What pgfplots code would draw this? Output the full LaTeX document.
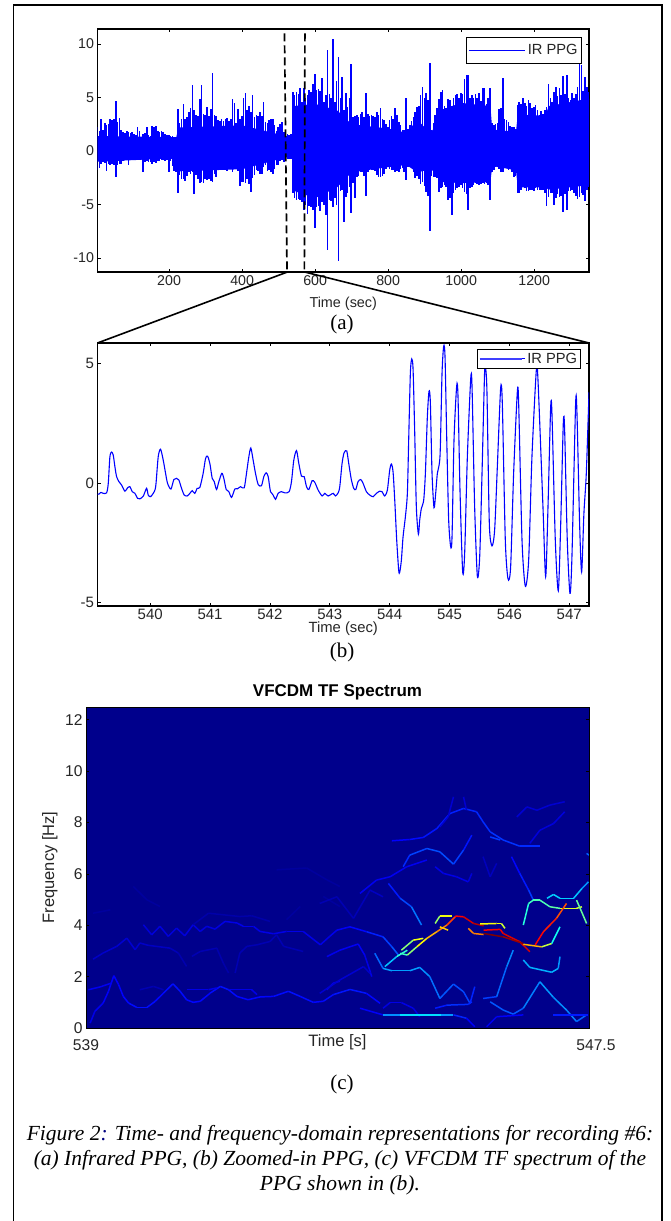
\documentclass[border=0pt]{standalone}
\usepackage{pgfplots}
\usepackage{pgfplotstable}
\usepackage{fontspec}
\pgfplotsset{compat=1.18}
\setmainfont{Liberation Sans}
\newfontfamily\capfont{Liberation Serif}
\definecolor{tk}{HTML}{262626}
\definecolor{bgb}{rgb}{0,0,0.55}
\pgfplotstableread[row sep=\\]{
x hi lo\\
4 2.2 -1.8\\9 1.9 -1.6\\14 3.0 -1.2\\19 2.0 -1.0\\24 2.6 -1.1\\29 2.4 -1.9\\34 2.5 -1.2\\39 3.0 -1.3\\44 2.9 -1.2\\49 3.0 -1.3\\54 4.7 -2.4\\59 2.7 -1.3\\64 3.1 -1.2\\69 2.0 -1.2\\74 1.8 -0.9\\79 1.7 -0.8\\84 1.9 -0.8\\89 1.8 -1.3\\94 1.7 -0.8\\99 1.8 -0.8\\104 1.6 -0.7\\109 1.5 -0.7\\114 2.2 -0.7\\119 1.9 -0.8\\124 1.3 -0.7\\129 1.6 -2.0\\134 1.7 -1.0\\139 2.2 -0.9\\144 1.5 -1.0\\149 1.4 -1.0\\154 2.3 -1.2\\159 2.2 -1.0\\164 2.3 -1.1\\169 1.9 -0.9\\174 1.8 -0.9\\179 1.9 -0.8\\184 1.8 -0.8\\189 1.6 -0.9\\194 1.5 -0.8\\199 1.5 -2.0\\
204 1.4 -0.9\\209 1.4 -1.4\\214 1.3 -1.9\\219 1.3 -2.0\\224 3.9 -3.9\\229 2.6 -2.2\\234 3.0 -2.6\\239 4.4 -2.6\\244 3.0 -2.8\\249 3.2 -2.3\\254 3.6 -2.0\\259 4.0 -2.1\\264 6.2 -2.0\\269 3.8 -4.0\\274 3.4 -2.2\\279 3.3 -2.6\\284 4.9 -3.0\\289 6.2 -2.9\\294 3.5 -3.0\\299 3.4 -2.6\\304 4.1 -2.7\\309 3.3 -2.6\\314 3.9 -2.8\\319 7.3 -2.9\\324 3.4 -2.1\\329 3.3 -2.4\\334 2.9 -1.8\\339 2.8 -1.6\\344 3.0 -1.7\\349 2.8 -1.6\\354 3.0 -1.8\\359 3.1 -1.9\\364 2.8 -1.6\\369 3.0 -1.7\\374 4.9 -2.0\\379 4.5 -1.7\\384 2.6 -1.6\\389 3.9 -1.9\\394 3.0 -3.3\\399 3.3 -2.9\\
404 5.0 -2.9\\409 5.4 -3.0\\414 3.8 -2.6\\419 4.2 -3.1\\424 3.6 -3.8\\429 5.2 -2.5\\434 3.2 -2.2\\439 3.4 -1.8\\444 3.3 -1.9\\449 3.6 -2.1\\454 3.3 -2.1\\459 4.6 -1.5\\464 2.7 -1.3\\469 2.6 -1.9\\474 2.9 -1.8\\479 3.0 -2.0\\484 3.0 -2.1\\489 2.4 -1.7\\494 1.9 -1.3\\499 2.2 -1.3\\504 2.5 -0.9\\509 2.7 -0.8\\514 1.8 -1.0\\519 1.6 -0.7\\524 1.6 -0.7\\529 1.5 -0.7\\534 1.6 -0.7\\539 5.5 -3.9\\544 5.2 -4.4\\549 5.5 -4.6\\554 5.3 -4.5\\559 5.9 -4.6\\564 4.6 -4.8\\569 5.9 -5.5\\574 5.0 -5.0\\579 5.2 -5.9\\584 5.7 -5.1\\589 5.5 -5.2\\594 6.3 -5.5\\599 7.2 -7.2\\
604 5.7 -5.2\\609 5.8 -5.1\\614 5.6 -5.6\\619 6.8 -4.8\\624 4.6 -5.0\\629 5.2 -6.0\\634 9.4 -9.2\\639 5.3 -4.6\\644 5.0 -4.7\\649 10.5 -5.2\\654 4.6 -4.4\\659 6.5 -5.0\\664 8.8 -10.3\\669 5.0 -3.7\\674 6.9 -3.6\\679 3.8 -6.6\\684 5.4 -4.3\\689 4.1 -3.9\\694 5.0 -3.4\\699 8.1 -5.8\\704 3.2 -3.0\\709 3.3 -4.4\\714 3.4 -2.4\\719 3.2 -2.3\\724 3.5 -2.0\\729 3.6 -2.0\\734 3.2 -2.3\\739 5.4 -4.2\\744 3.5 -2.0\\749 3.3 -1.7\\754 3.4 -1.8\\759 3.3 -1.8\\764 3.2 -1.9\\769 3.6 -2.2\\774 3.4 -2.4\\779 4.0 -2.4\\784 3.0 -2.3\\789 2.9 -2.1\\794 2.5 -1.7\\799 2.2 -1.5\\
804 2.9 -1.7\\809 3.3 -1.8\\814 3.0 -1.8\\819 4.0 -2.0\\824 3.4 -1.9\\829 2.7 -2.0\\834 2.4 -1.7\\839 2.0 -1.6\\844 2.0 -2.0\\849 5.0 -2.7\\854 2.1 -1.5\\859 2.4 -1.4\\864 2.8 -1.6\\869 3.2 -2.0\\874 3.6 -2.5\\879 4.1 -2.3\\884 4.2 -2.6\\889 5.2 -3.1\\894 6.0 -2.9\\899 5.0 -3.3\\904 5.4 -3.8\\909 4.8 -4.2\\914 8.2 -7.5\\919 2.0 -2.3\\924 2.6 -2.4\\929 3.4 -2.4\\934 4.0 -2.5\\939 4.9 -3.8\\944 5.5 -3.5\\949 5.7 -3.4\\954 4.2 -3.2\\959 4.0 -3.4\\964 4.9 -4.6\\969 4.8 -4.4\\974 4.2 -6.0\\979 5.0 -3.9\\984 5.2 -3.6\\989 5.3 -3.5\\994 5.0 -3.4\\999 5.4 -3.2\\
1004 5.3 -3.5\\1009 6.7 -3.8\\1014 7.1 -4.0\\1019 7.1 -5.5\\1024 5.0 -3.5\\1029 5.2 -3.4\\1034 5.0 -3.2\\1039 5.3 -3.0\\1044 5.0 -3.1\\1049 5.4 -3.2\\1054 4.7 -3.1\\1059 5.9 -3.0\\1064 5.9 -3.1\\1069 4.4 -3.0\\1074 5.0 -3.2\\1079 5.9 -4.6\\1084 2.6 -2.0\\1089 2.4 -1.8\\1094 2.5 -1.5\\1099 2.6 -1.3\\1104 3.9 -1.7\\1109 4.0 -2.0\\1114 6.8 -2.0\\1119 3.0 -1.6\\1124 2.9 -1.4\\1129 2.7 -1.8\\1134 2.3 -1.7\\1139 2.2 -2.0\\1144 2.2 -2.4\\1149 2.1 -2.3\\1154 4.3 -3.9\\1159 4.6 -3.9\\1164 4.4 -3.6\\1169 5.0 -3.4\\1174 4.5 -3.5\\1179 4.2 -3.7\\1184 4.8 -3.7\\1189 4.5 -3.6\\1194 4.0 -3.6\\1199 4.1 -3.7\\
1204 4.3 -3.5\\1209 3.8 -3.6\\1214 3.4 -3.6\\1219 3.7 -3.6\\1224 3.5 -3.6\\1229 3.8 -3.9\\1234 4.1 -5.1\\1239 6.3 -4.3\\1244 5.0 -3.9\\1249 4.6 -3.9\\1254 5.5 -5.0\\1259 6.0 -4.4\\1264 5.1 -4.0\\1269 5.9 -4.3\\1274 5.2 -4.2\\1279 7.0 -5.7\\1284 5.3 -4.0\\1289 7.1 -5.5\\1294 5.0 -3.7\\1299 4.8 -3.7\\1304 5.4 -3.6\\1309 5.0 -3.9\\1314 5.3 -4.2\\1319 6.0 -4.5\\1324 8.1 -4.3\\1329 8.0 -3.9\\1334 5.6 -4.1\\1339 6.9 -4.7\\1344 6.0 -3.6\\1349 5.5 -3.4\\
}\tabA
\pgfplotstableread[row sep=\\]{
x y\\
539.105 -0.47\\539.144 -0.46\\539.177 -0.39\\539.216 -0.43\\539.272 -0.41\\539.30 -0.01\\539.327 1.10\\539.355 1.30\\539.383 1.17\\539.411 0.68\\539.439 0.27\\539.478 0.06\\539.522 -0.08\\539.578 -0.34\\539.622 -0.20\\539.661 -0.15\\539.70 -0.36\\539.745 -0.43\\539.789 -0.64\\539.828 -0.66\\539.884 -0.55\\539.94 -0.22\\539.967 -0.50\\540.006 -0.57\\540.068 -0.36\\540.095 -0.08\\540.134 1.10\\540.173 1.42\\540.218 0.96\\540.257 0.41\\540.29 -0.01\\540.346 -0.25\\540.396 0.15\\540.44 0.20\\540.479 0.13\\540.524 -0.22\\540.568 -0.50\\540.618 -0.54\\540.663 -0.43\\540.702 -0.32\\540.746 -0.43\\540.785 -0.22\\540.83 -0.18\\540.885 0.41\\540.925 1.03\\540.958 1.13\\540.997 0.82\\541.036 0.20\\541.07 0.06\\541.108 -0.27\\541.147 0.06\\541.197 0.41\\541.23 0.20\\541.27 -0.27\\541.314 -0.36\\541.359 -0.60\\541.414 -0.25\\541.459 -0.24\\541.509 -0.15\\541.57 -0.20\\541.609 0.41\\541.648 1.10\\541.681 1.47\\541.72 0.96\\541.759 0.41\\541.804 -0.06\\541.859 -0.11\\541.898 0.27\\541.937 0.43\\541.971 0.27\\542.01 -0.36\\542.054 -0.50\\542.093 -0.68\\542.138 -0.43\\542.193 -0.36\\542.249 -0.41\\542.321 -0.36\\542.36 0.06\\542.399 0.96\\542.444 1.36\\542.483 0.82\\542.527 0.29\\542.572 0.27\\542.611 -0.15\\542.65 -0.27\\542.705 0.10\\542.75 0.03\\542.805 -0.29\\542.872 -0.54\\542.917 -0.43\\542.972 -0.54\\543.056 -0.43\\543.095 -0.54\\543.14 -0.41\\543.167 -0.15\\
543.205 0.82\\543.239 1.27\\543.283 1.35\\543.317 0.82\\543.361 0.13\\543.40 -0.22\\543.434 -0.27\\543.473 0.06\\543.517 0.15\\543.556 -0.01\\543.612 -0.36\\543.667 -0.50\\543.723 -0.57\\543.779 -0.43\\543.834 -0.34\\543.873 -0.36\\543.918 -0.54\\543.962 -0.29\\544.001 0.54\\544.029 0.80\\544.057 0.47\\544.085 -0.71\\544.118 -2.39\\544.151 -3.65\\544.168 -3.74\\544.196 -3.23\\544.224 -2.25\\544.263 -1.41\\544.296 -0.43\\544.318 1.80\\544.346 4.60\\544.369 5.20\\544.391 4.78\\544.419 2.09\\544.446 -1.01\\544.48 -2.14\\544.502 -1.55\\544.53 -1.06\\544.569 -0.71\\544.597 0.41\\544.63 2.79\\544.658 3.85\\544.68 3.37\\544.708 0.41\\544.741 -1.03\\544.769 -0.43\\544.797 0.41\\544.842 1.17\\544.875 4.60\\544.903 5.74\\544.925 5.29\\544.953 1.94\\544.986 -1.55\\545.02 -2.67\\545.042 -2.25\\545.075 1.80\\545.12 4.08\\545.142 3.62\\545.175 -0.29\\545.22 -3.72\\545.253 -2.95\\545.298 1.10\\545.354 4.36\\545.376 4.04\\545.42 -1.0\\545.465 -3.9\\545.504 -3.09\\545.543 0.41\\545.587 4.73\\545.604 4.80\\545.626 3.76\\545.665 -1.69\\545.71 -2.63\\545.754 -1.96\\545.799 0.69\\545.854 3.97\\545.882 3.34\\545.932 -2.39\\545.977 -4.01\\546.021 -3.51\\546.071 0.41\\546.133 3.83\\546.155 3.34\\546.211 -2.39\\546.266 -4.32\\546.322 -3.23\\546.377 1.10\\546.45 4.73\\546.478 4.31\\546.561 -1.0\\546.606 -3.92\\546.645 -1.0\\546.689 3.13\\546.711 2.92\\546.767 -2.39\\546.817 -4.51\\546.856 -1.83\\546.901 2.53\\546.923 2.22\\546.967 -2.39\\547.012 -4.62\\547.045 -3.09\\547.106 3.30\\547.129 2.92\\547.173 -1.69\\547.207 -3.72\\547.245 -1.27\\547.285 0.41\\547.33 3.8\\
}\tabB
\pgfplotsset{
  common/.style={
    scale only axis,
    axis line style={black,line width=1.1pt},
    tick style={black,line width=0.7pt},
    major tick length=3pt,
    tick align=inside,
    /pgf/number format/assume math mode=true,
    /pgf/number format/1000 sep={},
    tick label style={text=tk},
    every axis x label/.style={at={(axis description cs:0.5,0)},anchor=center,text=tk},
    ridge/.style={mesh,point meta=explicit,line width=1.5pt},
  },
}
\begin{document}
\begin{tikzpicture}[x=1pt,y=1pt]
\path[use as bounding box] (0,0) rectangle (671,1221);
\fill[white] (0,0) rectangle (671,1221);
\draw[black,line width=1.3pt] (13.5,0) -- (13.5,1216) -- (662,1216) -- (662,0);
% ---------- panel a
\begin{axis}[common,at={(97.5pt,949pt)},anchor=south west,width=491.5pt,height=243pt,
  xmin=4,xmax=1350,ymin=-11.3,ymax=11.4,
  xtick={200,400,...,1200},ytick={-10,-5,0,5,10},
  tick label style={font=\fontsize{14.2}{14.2}\selectfont},
  xlabel={Time (sec)},
  xlabel style={font=\fontsize{14.4}{14.4}\selectfont,yshift=-32pt},
  legend style={at={(0.986,0.967)},anchor=north east,draw=black,line width=1pt,
    font=\fontsize{14.7}{14.7}\selectfont,inner xsep=2pt,inner ysep=5pt,
    cells={anchor=west,text=tk}},
  legend image code/.code={\path (-11pt,0pt) -- (45pt,0pt);\draw[blue,line width=1.1pt] (-4.5pt,0pt) -- (40.5pt,0pt);},
  ]
\addplot[fill=blue,draw=none,forget plot] coordinates {(4,1.4) (200,1.3) (220,1.3) (225,2.2) (400,2.4) (520,1.4) (538,1.4) (540,4.2) (600,4.4) (660,3.8) (700,2.5) (800,2.1) (850,1.7) (880,2.9) (915,1.7) (930,2.3) (950,3.9) (1000,4.5) (1080,4.2) (1085,2.0) (1150,1.8) (1155,3.4) (1230,3.3) (1240,4.2) (1350,4.9) (1350,-3.2) (1240,-3.6) (1230,-3.4) (1155,-3.4) (1150,-1.8) (1085,-1.4) (1080,-2.9) (1000,-3.0) (950,-2.9) (930,-2.0) (915,-1.7) (880,-2.0) (850,-1.3) (800,-1.5) (700,-2.0) (660,-3.4) (600,-4.4) (540,-3.7) (538,-0.6) (520,-0.6) (400,-1.7) (225,-1.9) (220,-0.8) (200,-0.7) (4,-1)} -- cycle;
\addplot[ycomb,blue,line width=1.6pt,line cap=butt,no marks] table[x=x,y=hi] {\tabA};
\addlegendentry{IR PPG}
\addplot[ycomb,blue,line width=1.6pt,line cap=butt,no marks,forget plot] table[x=x,y=lo] {\tabA};
\addplot[black,line width=1.7pt,dash pattern=on 8pt off 4pt,forget plot] coordinates {(516,11) (523,-11.3)};
\addplot[black,line width=1.7pt,dash pattern=on 8pt off 4pt,forget plot] coordinates {(572,11) (570.5,-11.3)};
\end{axis}
% ---------- panel b
\begin{axis}[common,at={(97.5pt,615pt)},anchor=south west,width=491.5pt,height=263pt,
  xmin=539.12,xmax=547.33,ymin=-5.15,ymax=5.87,
  xtick={540,541,...,547},ytick={-5,0,5},
  tick label style={font=\fontsize{15}{15}\selectfont},
  xlabel={Time (sec)},
  xlabel style={font=\fontsize{14.8}{14.8}\selectfont,yshift=-23pt},
  legend style={at={(0.983,0.977)},anchor=north east,draw=black,line width=1pt,
    font=\fontsize{14.7}{14.7}\selectfont,inner xsep=1pt,inner ysep=1.5pt,
    cells={anchor=west,text=tk}},
  legend image code/.code={\path (-3pt,0pt) -- (42pt,0pt);\draw[blue!75!white,line width=2.2pt] (-3pt,0pt) -- (39pt,0pt);},
  ]
\addplot[blue,line width=1.1pt,smooth,tension=0.45,no marks] table[x=x,y=y] {\tabB};
\addlegendentry{IR PPG}
\end{axis}
% ---------- panel c
\begin{axis}[common,at={(86pt,193pt)},anchor=south west,width=503pt,height=321pt,
  xmin=539,xmax=547.5,ymin=0,ymax=12.5,
  xtick={539,547.5},xticklabels={539,\hspace*{14pt}547.5},ytick={0,2,...,12},
  x tick style={draw=none},
  axis background/.style={fill=bgb},
  axis line style={black,line width=0.9pt},
  tick label style={font=\fontsize{15.6}{15.6}\selectfont},
  x tick label style={yshift=-8pt},
  xlabel={Time [s]},ylabel={Frequency [Hz]},
  xlabel style={font=\fontsize{16.5}{16.5}\selectfont,yshift=-14pt},
  every axis y label/.style={at={(axis description cs:-0.072,0.5)},rotate=90,anchor=center,text=tk,font=\fontsize{16.5}{16.5}\selectfont},
  title={\bfseries VFCDM TF Spectrum},
  title style={font=\fontsize{17}{17}\selectfont,yshift=-3pt,text=black},
  colormap/jet,point meta min=0,point meta max=1,
  ]
\addplot[ridge] coordinates {(539.07,.19)[.1] (539.15,.65)[.1] (539.29,.97)[.12] (539.38,1.43)[.12] (539.47,2.04)[.12] (539.55,1.69)[.12] (539.63,1.23)[.13] (539.72,.97)[.13] (539.86,.80)[.14] (540.03,.80)[.14] (540.17,1.04)[.13] (540.31,1.36)[.13] (540.47,1.72)[.14] (540.59,1.43)[.14] (540.70,1.10)[.13] (540.81,1.0)[.13] (540.93,1.04)[.13] (541.10,1.36)[.13] (541.27,1.62)[.14] (541.41,1.49)[.14] (541.55,1.23)[.13] (541.74,1.10)[.13] (541.94,1.21)[.13] (542.17,1.23)[.13] (542.42,1.43)[.14] (542.62,1.23)[.14] (542.84,1.0)[.13] (543.01,1.04)[.13] (543.18,1.30)[.14] (543.46,1.50)[.15] (543.74,1.35)[.14] (543.97,.96)[.12]};
\addplot[ridge] coordinates {(539.04,1.49)[.11] (539.24,1.60)[.11] (539.43,1.75)[.11]};
\addplot[ridge] coordinates {(539.91,1.49)[.05] (540.14,1.62)[.05] (540.31,1.49)[.05]};
\addplot[ridge] coordinates {(540.70,1.49)[.1] (541.07,1.49)[.1] (541.21,1.56)[.1]};
\addplot[ridge] coordinates {(541.43,1.49)[.1] (541.80,1.49)[.1] (541.89,1.30)[.1]};
\addplot[ridge] coordinates {(543.07,1.49)[.1] (543.18,1.75)[.1] (543.29,1.82)[.1]};
\addplot[ridge] coordinates {(539.12,2.68)[.07] (539.29,2.92)[.07] (539.52,3.18)[.08] (539.69,3.50)[.08] (539.83,3.05)[.08] (539.91,3.31)[.07] (540.05,3.22)[.07] (540.42,3.11)[.06] (540.56,2.92)[.05] (540.70,2.40)[.04]};
\addplot[ridge] coordinates {(540.79,2.79)[.05] (540.93,2.98)[.05] (541.21,3.11)[.05] (541.32,2.53)[.04] (541.41,2.14)[.04]};
\addplot[ridge] coordinates {(541.52,2.14)[.05] (541.60,2.92)[.05] (541.72,3.18)[.05] (541.89,3.24)[.05] (542.11,3.37)[.05] (542.22,3.63)[.05] (542.34,3.18)[.05] (542.67,2.98)[.05]};
\addplot[ridge] coordinates {(539.97,4.02)[.08] (540.11,3.63)[.09] (540.25,3.96)[.09] (540.39,3.57)[.09] (540.53,3.89)[.09] (540.67,3.59)[.09] (540.81,4.02)[.09] (540.93,3.76)[.09] (541.04,3.96)[.09] (541.18,3.85)[.09] (541.35,4.15)[.1] (541.55,4.09)[.1] (541.66,3.96)[.1] (541.83,3.96)[.1] (541.94,3.76)[.1] (542.17,3.67)[.1] (542.39,3.76)[.1] (542.67,3.76)[.1] (542.96,3.24)[.1] (543.12,3.57)[.1] (543.24,3.81)[.11] (543.46,3.94)[.12] (543.74,3.75)[.14] (544.02,3.55)[.17] (544.17,3.16)[.2] (544.28,2.84)[.22]};
\addplot[ridge] coordinates {(540.81,4.02)[.04] (541.07,4.47)[.04] (541.60,4.34)[.04] (541.80,4.37)[.04] (542.11,4.15)[.04]};
\addplot[ridge] coordinates {(539.12,4.47)[.03] (539.41,4.60)[.03]};
\addplot[ridge] coordinates {(539.80,5.51)[.03] (540.03,4.99)[.03] (540.25,4.73)[.03]};
\addplot[ridge] coordinates {(542.22,6.16)[.03] (542.73,6.23)[.03] (543.07,5.77)[.03] (543.29,5.51)[.03]};
\addplot[ridge] coordinates {(543.01,5.12)[.03] (543.29,4.73)[.03]};
\addplot[ridge] coordinates {(542.39,4.22)[.03] (542.62,4.73)[.03]};
\addplot[ridge] coordinates {(544.17,7.29)[.12] (544.47,7.34)[.13] (544.70,7.42)[.14] (544.93,7.77)[.15] (545.15,8.35)[.15] (545.38,8.55)[.16] (545.60,8.42)[.16] (545.71,8.03)[.17] (545.83,7.64)[.17] (546.05,7.32)[.18] (546.33,7.08)[.17] (546.67,7.08)[.16]};
\addplot[ridge] coordinates {(546.50,7.19)[.09] (546.67,7.70)[.09] (546.90,7.96)[.09] (547.09,8.42)[.09]};
\addplot[ridge] coordinates {(546.28,8.22)[.08] (546.45,8.61)[.08] (546.62,8.48)[.08] (546.84,8.68)[.08] (547.09,8.81)[.08]};
\addplot[ridge] coordinates {(544.98,7.83)[.08] (545.12,8.22)[.08] (545.21,9.0)[.08]};
\addplot[ridge] coordinates {(545.38,9.0)[.08] (545.43,8.48)[.08]};
\addplot[ridge] coordinates {(545.83,7.44)[.18] (546.0,7.32)[.18]};
\addplot[ridge] coordinates {(543.63,5.24)[.11] (543.91,5.76)[.11] (544.14,5.89)[.11] (544.42,6.28)[.11] (544.76,6.54)[.11]};
\addplot[ridge] coordinates {(544.36,6.28)[.15] (544.47,6.73)[.18] (544.76,6.99)[.2] (544.98,6.86)[.2] (545.21,6.38)[.2] (545.38,6.93)[.17] (545.52,7.51)[.12]};
\addplot[ridge] coordinates {(544.90,6.28)[.1] (545.04,6.02)[.1] (545.26,5.89)[.1] (545.46,5.69)[.1] (545.52,6.02)[.07]};
\addplot[ridge] coordinates {(545.71,6.67)[.06] (545.83,5.89)[.06] (545.94,6.41)[.06]};
\addplot[ridge] coordinates {(544.11,5.63)[.13] (544.31,5.05)[.17] (544.50,4.72)[.22] (544.67,4.01)[.26]};
\addplot[ridge] coordinates {(542.95,4.85)[.05] (543.24,5.11)[.05] (543.52,4.27)[.05] (543.80,5.37)[.06] (544.02,5.11)[.07]};
\addplot[ridge] coordinates {(543.88,2.91)[.18] (544.02,2.32)[.27] (544.17,2.23)[.28] (544.47,2.23)[.28] (544.64,2.36)[.28] (544.81,2.0)[.25] (544.98,1.15)[.22] (545.21,1.71)[.2] (545.38,1.41)[.2] (545.49,.96)[.18] (545.57,1.61)[.14]};
\addplot[ridge] coordinates {(543.07,2.78)[.1] (543.29,3.03)[.11] (543.60,3.27)[.12] (543.71,2.84)[.11] (543.83,2.0)[.09]};
\addplot[ridge] coordinates {(542.95,1.35)[.08] (543.29,1.87)[.08] (543.69,2.39)[.08] (543.80,2.13)[.06]};
\addplot[ridge] coordinates {(544.02,.77)[.09] (544.14,.99)[.1] (544.33,.99)[.1] (544.53,.77)[.1] (544.64,.44)[.08]};
\addplot[ridge] coordinates {(543.63,.77)[.09] (544.02,.51)[.15]};
\addplot[ridge] coordinates {(544.02,.51)[.2] (544.30,.51)[.33] (544.70,.51)[.36] (545.0,.51)[.33] (545.21,.51)[.22]};
\addplot[ridge] coordinates {(545.21,.51)[.18] (545.43,.38)[.14] (545.57,.05)[.1]};
\addplot[ridge] coordinates {(544.90,.77)[.13] (545.10,.89)[.17] (545.46,.92)[.17] (545.52,1.02)[.15]};
\addplot[ridge] coordinates {(545.71,1.15)[.17] (545.94,1.22)[.2] (546.11,2.39)[.25] (546.22,3.03)[.26]};
\addplot[ridge] coordinates {(545.83,1.02)[.2] (546.05,.70)[.22] (546.22,.54)[.2] (546.39,.77)[.22] (546.67,1.80)[.28] (546.90,1.19)[.27] (547.12,.70)[.26] (547.29,.25)[.24] (547.46,.51)[.2]};
\addplot[ridge] coordinates {(545.77,.05)[.1] (545.94,.44)[.12] (546.39,.51)[.12]};
\addplot[ridge] coordinates {(546.90,.51)[.15] (547.49,.51)[.15]};
\addplot[ridge] coordinates {(546.39,2.65)[.28] (546.50,2.36)[.3] (546.87,2.17)[.3] (546.98,2.32)[.3] (547.01,2.78)[.25]};
\addplot[ridge] coordinates {(546.19,6.67)[.12] (546.33,6.02)[.14] (546.48,5.37)[.16] (546.56,4.98)[.2]};
\addplot[ridge] coordinates {(546.39,4.01)[.4] (546.48,4.85)[.42] (546.56,4.98)[.45] (546.67,4.98)[.45] (546.84,4.72)[.45] (547.01,4.66)[.48]};
\addplot[ridge] coordinates {(546.79,5.05)[.32] (546.90,5.20)[.33] (547.01,5.05)[.33] (547.24,5.05)[.33] (547.38,5.43)[.3] (547.49,5.69)[.25]};
\addplot[ridge] coordinates {(547.01,4.66)[.58] (547.29,4.66)[.6] (547.38,4.72)[.55]};
\addplot[ridge] coordinates {(547.29,4.98)[.45] (547.46,4.07)[.5]};
\addplot[ridge] coordinates {(547.46,6.80)[.22] (547.5,6.73)[.22]};
\addplot[ridge] coordinates {(544.05,2.39)[.3] (544.25,2.78)[.33] (544.43,3.03)[.5]};
\addplot[ridge] coordinates {(544.31,2.91)[.42] (544.43,2.84)[.45] (544.59,3.16)[.58] (544.76,3.49)[.68] (544.93,3.75)[.72] (545.10,4.01)[.78] (545.24,4.33)[.85]};
\addplot[ridge] coordinates {(544.33,3.03)[.42] (544.53,3.42)[.6] (544.70,3.49)[.62]};
\addplot[ridge] coordinates {(544.90,4.07)[.45] (544.98,4.36)[.6] (545.18,4.36)[.62]};
\addplot[ridge] coordinates {(544.98,3.94)[.7] (545.12,3.81)[.65]};
\addplot[ridge] coordinates {(545.24,4.36)[.87] (545.38,4.33)[.88] (545.55,4.07)[.95] (545.72,3.98)[.95]};
\addplot[ridge] coordinates {(545.66,4.05)[.62] (545.94,4.07)[.62] (546.02,4.07)[.6] (546.08,3.88)[.55]};
\addplot[ridge] coordinates {(545.46,3.88)[.75] (545.55,3.68)[.75] (545.72,3.64)[.75]};
\addplot[ridge] coordinates {(545.72,3.81)[.88] (546.0,3.84)[.88] (546.05,3.68)[.9] (546.33,3.36)[.92] (546.50,2.97)[.9]};
\addplot[ridge] coordinates {(545.72,3.68)[1] (546.05,3.55)[1] (546.39,3.29)[.95]};
\addplot[ridge] coordinates {(546.39,3.26)[.75] (546.70,3.16)[.65] (546.87,3.29)[.48] (547.01,3.94)[.3]};
\addplot[ridge] coordinates {(546.59,3.23)[.9] (546.73,3.75)[.85] (546.95,4.27)[.85] (547.12,4.85)[.75]};
\end{axis}
% ---------- zoom connector lines
\draw[black,line width=1.6pt] (287.5,949) -- (97.5,878);
\draw[black,line width=1.6pt] (304.5,949) -- (589,878);
% ---------- captions
\node[font=\capfont\fontsize{21}{21}\selectfont] at (342,897) {(a)};
\node[font=\capfont\fontsize{21}{21}\selectfont] at (342,569) {(b)};
\node[font=\capfont\fontsize{21}{21}\selectfont] at (342,137) {(c)};
\node[font=\capfont\itshape\fontsize{21.5}{21.5}\selectfont] at (340,86) {Figure 2{\color{blue!50!black}:} Time- and frequency-domain representations for recording \#6:};
\node[font=\capfont\itshape\fontsize{21.5}{21.5}\selectfont] at (340,61) {(a) Infrared PPG, (b) Zoomed-in PPG, (c) VFCDM TF spectrum of the};
\node[font=\capfont\itshape\fontsize{21.5}{21.5}\selectfont] at (340,36) {PPG shown in (b).};
\end{tikzpicture}
\end{document}
